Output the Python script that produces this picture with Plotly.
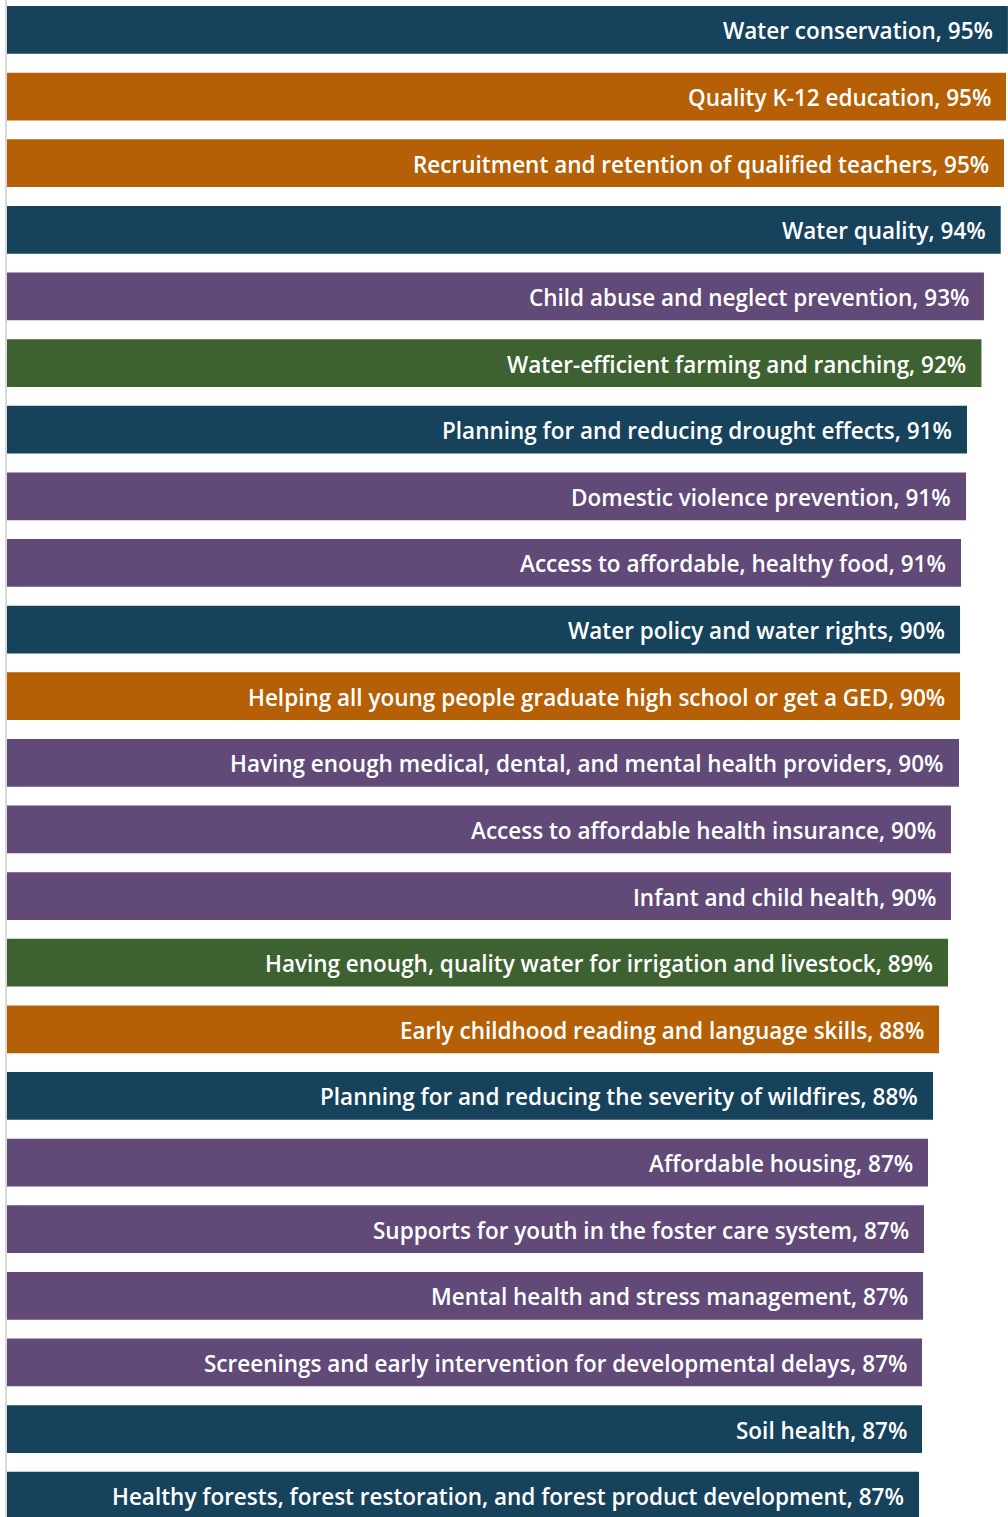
import plotly.graph_objects as go

# Share of respondents rating each issue as important (percent)
issues = [
    "Water conservation",
    "Quality K-12 education",
    "Recruitment and retention of qualified teachers",
    "Water quality",
    "Child abuse and neglect prevention",
    "Water-efficient farming and ranching",
    "Planning for and reducing drought effects",
    "Domestic violence prevention",
    "Access to affordable, healthy food",
    "Water policy and water rights",
    "Helping all young people graduate high school or get a GED",
    "Having enough medical, dental, and mental health providers",
    "Access to affordable health insurance",
    "Infant and child health",
    "Having enough, quality water for irrigation and livestock",
    "Early childhood reading and language skills",
    "Planning for and reducing the severity of wildfires",
    "Affordable housing",
    "Supports for youth in the foster care system",
    "Mental health and stress management",
    "Screenings and early intervention for developmental delays",
    "Soil health",
    "Healthy forests, forest restoration, and forest product development",
]
percent = [
    94.96, 94.78, 94.59, 94.28, 92.69, 92.45, 91.08, 90.99, 90.51, 90.42,
    90.42, 90.32, 89.56, 89.56, 89.28, 88.43, 87.86, 87.38, 87.00, 86.91,
    86.81, 86.81, 86.53,
]
topic = [
    "Natural resources", "Education", "Education", "Natural resources",
    "Health and human services", "Agriculture", "Natural resources",
    "Health and human services", "Health and human services", "Natural resources",
    "Education", "Health and human services", "Health and human services",
    "Health and human services", "Agriculture", "Education", "Natural resources",
    "Health and human services", "Health and human services",
    "Health and human services", "Health and human services",
    "Natural resources", "Natural resources",
]

topic_colors = {
    "Natural resources": "#16425C",
    "Education": "#B55F06",
    "Health and human services": "#614A78",
    "Agriculture": "#3E6131",
}

rows = list(range(len(issues)))
labels = [f"{name}, {round(v)}%" for name, v in zip(issues, percent)]

fig = go.Figure(
    go.Bar(
        x=percent,
        y=rows,
        orientation="h",
        width=0.716,
        marker=dict(color=[topic_colors[t] for t in topic], line=dict(width=0)),
        hoverinfo="skip",
    )
)

annotations = [
    dict(
        x=v, y=r, text=lab, xref="x", yref="y",
        xanchor="right", yanchor="middle", xshift=-13, yshift=-1,
        showarrow=False,
        font=dict(family="Open Sans", size=22.5, color="white", weight=600),
    )
    for v, r, lab in zip(percent, rows, labels)
]

fig.update_layout(
    width=1008,
    height=1517,
    margin=dict(l=7, r=0, t=0, b=0),
    paper_bgcolor="white",
    plot_bgcolor="white",
    showlegend=False,
    annotations=annotations,
    xaxis=dict(range=[0, 94.97], visible=False, fixedrange=True),
    yaxis=dict(
        range=[22.32, -0.449],
        showticklabels=False,
        showgrid=False,
        zeroline=False,
        ticks="",
        showline=True,
        linecolor="#D9D9D9",
        linewidth=1.5,
        fixedrange=True,
    ),
)

fig.write_html("out.html", config={"displayModeBar": False})
